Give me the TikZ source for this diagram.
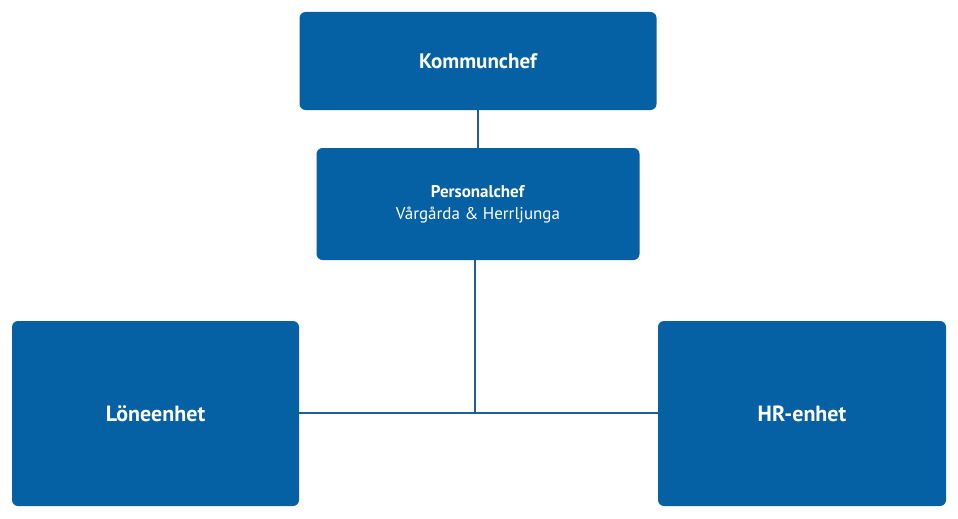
\documentclass[tikz,border=0pt]{standalone}
\usepackage{fontspec}
\setmainfont{PT Sans}
\definecolor{boxblue}{HTML}{0561A3}
\definecolor{lineblue}{HTML}{1F5F96}
\begin{document}
\begin{tikzpicture}[x=1pt,y=-1pt,
  box/.style={fill=boxblue,rounded corners=6pt,text=white,align=center,inner sep=0pt},
  conn/.style={draw=lineblue,line width=1.3pt}]
\useasboundingbox (0,0) rectangle (958,519);
\node[box,minimum width=357pt,minimum height=98pt,font=\bfseries\fontsize{21}{25}\selectfont] (k) at (478,61) {Kommunchef};
\node[box,minimum width=323pt,minimum height=112pt,font=\fontsize{17}{22}\selectfont] (p) at (478,204) {\textbf{Personalchef}\\Vårgårda \& Herrljunga};
\node[box,minimum width=287pt,minimum height=185pt,font=\bfseries\fontsize{22}{26}\selectfont] (l) at (155.5,413.5) {Löneenhet};
\node[box,minimum width=288pt,minimum height=185pt,font=\bfseries\fontsize{22}{26}\selectfont] (h) at (802,413.5) {HR-enhet};
\coordinate (j) at (475,413);
\draw[conn] (k.south) -- (p.north);
\draw[conn] (p.south -| j) -- (j);
\draw[conn] (l.east |- j) -- (h.west |- j);
\end{tikzpicture}
\end{document}
